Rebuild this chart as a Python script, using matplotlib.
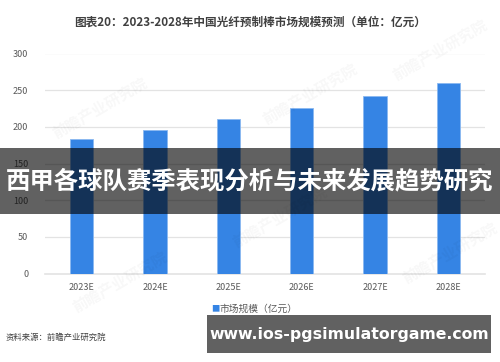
import matplotlib
matplotlib.use('Agg')
import matplotlib.pyplot as plt
from matplotlib.patches import Rectangle

plt.rcParams['font.family'] = ['Noto Sans CJK SC', 'DejaVu Sans']

# data
years = ['2023E', '2024E', '2025E', '2026E', '2027E', '2028E']
market_size = [183, 196, 211, 226, 242, 260]
yticks = [0, 50, 100, 150, 200, 250, 300]

title = '图表20：2023-2028年中国光纤预制棒市场规模预测（单位：亿元）'
legend_label = '市场规模（亿元）'
source = '资料来源：前瞻产业研究院'
banner = '西甲各球队赛季表现分析与未来发展趋势研究'
site = 'www.ios-pgsimulatorgame.com'

W, H = 500, 362
fig = plt.figure(figsize=(W / 100, H / 100), dpi=100)
fig.patch.set_facecolor('white')
ax = fig.add_axes([45 / W, 1 - 273.5 / H, 440 / W, 220 / H])

bar_color = '#3584e4'
ax.bar(range(len(years)), market_size, width=0.32, color=bar_color,
       edgecolor='#8ab8f0', linewidth=0.6, zorder=3)
ax.set_xlim(-0.5, len(years) - 0.5)
ax.set_ylim(0, 300)
ax.set_yticks(yticks)
ax.set_xticks(range(len(years)))
ax.set_xticklabels(years)
ax.tick_params(axis='both', length=0, labelsize=6.5, colors='#595959')
ax.tick_params(axis='x', pad=7)
ax.tick_params(axis='y', pad=12)
ax.grid(axis='y', color='#e3e3e3', linewidth=0.9, zorder=0)
for name, sp in ax.spines.items():
    sp.set_visible(name == 'bottom')
ax.spines['bottom'].set_color('#e3e3e3')
ax.spines['bottom'].set_linewidth(1.2)

# faint watermarks
for x, y in [(0.20, 0.70), (0.62, 0.74), (0.88, 0.86),
             (0.24, 0.22), (0.56, 0.40), (0.90, 0.30)]:
    fig.text(x, y, '前瞻产业研究院', fontsize=11, fontweight='bold',
             color='#000000', alpha=0.03, rotation=30,
             ha='center', va='center')

fig.text(0.5, 1 - 22 / H, title, fontsize=8.4, fontweight='bold',
         color='#404040', ha='center', va='center')

fig.text(211 / W, 1 - 309 / H, '■', fontsize=6, color=bar_color,
         ha='left', va='center')
fig.text(219 / W, 1 - 309 / H, legend_label, fontsize=7,
         color='#595959', ha='left', va='center')

fig.text(6 / W, 1 - 337 / H, source, fontsize=6, color='#404040',
         ha='left', va='center')

# overlay banners
fig.patches.append(Rectangle((0, 1 - 214 / H), 1, 66 / H,
                             transform=fig.transFigure, facecolor='black',
                             alpha=0.62, zorder=10))
fig.text(0.5, 1 - 181 / H, banner, fontsize=17.6, fontweight='bold',
         color='white', ha='center', va='center', zorder=11)

fig.patches.append(Rectangle((207 / W, 1 - 353 / H), 284 / W, 38 / H,
                             transform=fig.transFigure, facecolor='black',
                             alpha=0.62, zorder=10))
fig.text(349 / W, 1 - 334 / H, site, fontsize=11.3, fontweight='bold',
         color='white', ha='center', va='center', zorder=11,
         family=['DejaVu Sans'])

fig.savefig('out.png', dpi=100)
